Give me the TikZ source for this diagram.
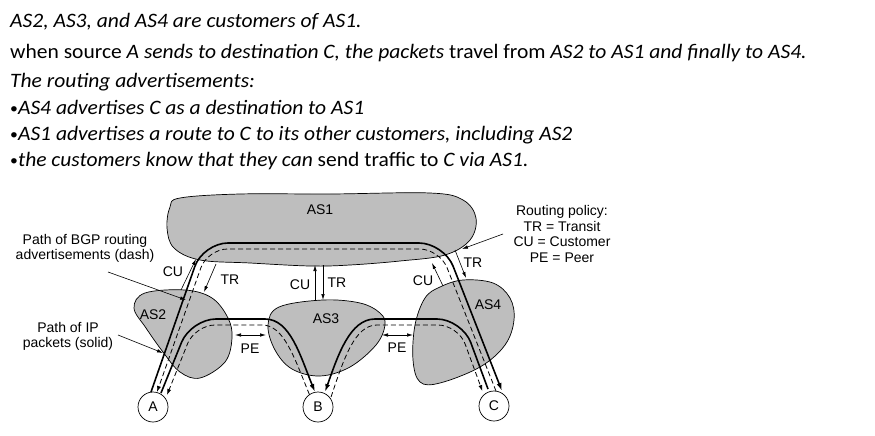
\documentclass[tikz,border=0pt]{standalone}
\usepackage{fontspec}
\setmainfont[FakeStretch=1.05]{Carlito}
\newfontfamily\arialf{Liberation Sans}
\usetikzlibrary{arrows.meta,calc}
\definecolor{blobgray}{RGB}{190,190,190}
\newcommand{\smallbul}{{\fontsize{15}{15}\selectfont\raisebox{0.5pt}{•}}}
\begin{document}
\begin{tikzpicture}[x=1pt,y=-1pt,
  blob/.style={draw=black,line width=0.7pt,fill=blobgray},
  pkt/.style={line width=1.6pt},
  adv/.style={line width=0.8pt,dash pattern=on 5pt off 3pt},
  pktend/.style={-{Latex[length=8pt,width=5pt]}},
  advend/.style={-{Latex[length=6pt,width=4pt]}},
  thinarrow/.style={line width=0.6pt,-{Latex[length=6pt,width=3.5pt]}},
  dblarrow/.style={line width=0.6pt,{Latex[length=6pt,width=3.5pt]}-{Latex[length=6pt,width=3.5pt]}},
  lbl/.style={font=\arialf\fontsize{14}{15.7}\selectfont, inner sep=0pt, align=center},
  host/.style={circle,draw,line width=0.7pt,fill=white,minimum size=30pt,inner sep=0pt,font=\arialf\fontsize{14}{15.7}\selectfont},
  toptext/.style={anchor=base west,inner sep=0pt,font=\fontsize{20.5}{23}\selectfont}
]
\useasboundingbox (0,0) rectangle (875,436);

% ---- top text ----
\node[toptext] (t1) at (10,28) {\textit{AS2, AS3, and AS4 are customers of AS1.}};
\node[toptext] (t2) at (10,59) {when source \textit{A sends to destination C, the packets} travel from \textit{AS2 to AS1 and finally to AS4.}};
\node[toptext] (t3) at (10,88) {\textit{The routing advertisements:}};
\node[toptext] (t4) at (10,114) {\smallbul\textit{AS4 advertises C as a destination to AS1}};
\node[toptext] (t5) at (10,140) {\smallbul\textit{AS1 advertises a route to C to its other customers, including AS2}};
\node[toptext] (t6) at (10,166) {\smallbul\textit{the customers know that they can} send traffic to \textit{C via AS1.}};

% ---- AS blobs ----
\draw[blob] plot[smooth cycle, tension=0.6] coordinates {(180,198) (240,194) (330,194) (430,193) (463,200) (476,218) (470,240) (445,255) (400,261) (350,265) (310,266) (250,263) (200,260) (174,248) (167,228) (170,207)};
\draw[blob] plot[smooth cycle, tension=0.6] coordinates {(145,293) (185,290) (212,298) (228,318) (232,338) (225,362) (200,378) (180,372) (163,352) (146,328) (134,308)};
\draw[blob] plot[smooth cycle, tension=0.6] coordinates {(323,300) (360,303) (380,313) (385,325) (376,345) (350,367) (320,376) (292,369) (275,350) (268,325) (279,307)};
\draw[blob] plot[smooth cycle, tension=0.6] coordinates {(463,280) (493,283) (510,298) (514,320) (505,345) (480,367) (440,383) (420,382) (413,360) (415,325) (425,298) (440,287)};

% ---- AS labels ----
\node[lbl] (as1) at (320,210) {AS1};
\node[lbl] (as2) at (153,315) {AS2};
\node[lbl] (as3) at (326,319) {AS3};
\node[lbl] (as4) at (488,305) {AS4};

% ---- hosts ----
\node[host] (A) at (153,407) {A};
\node[host] (B) at (318,407) {B};
\node[host] (C) at (494,406) {C};

% ---- path end points ----
\coordinate (acS) at (151,392);
\coordinate (acE) at (502,391);
\coordinate (acdS) at (496,391);
\coordinate (acdE) at (157,392);
\coordinate (abS) at (161,393);
\coordinate (abE) at (315,392);
\coordinate (abdS) at (309.4,394.5);
\coordinate (abdE) at (167,395);
\coordinate (cbS) at (488,389);
\coordinate (cbE) at (325,392);
\coordinate (cbdS) at (331,397);
\coordinate (cbdE) at (482.4,391.1);

% A -> C packets (solid) and C -> A advertisement (dashed)
\draw[pkt,pktend,rounded corners=25pt] (acS) -- (203,243) -- (444,243) -- (acE);
\draw[adv,advend,rounded corners=20pt] (acdS) -- (439.6,249) -- (207.5,249) -- (acdE);

% A -> B packets via AS2/AS3 (solid) and B -> A advertisement (dashed)
\draw[pkt,pktend] (abS) -- (181.6,342.2) .. controls (186.8,329.4) and (202.3,319) .. (216,319) -- (265,319) .. controls (290,319) and (300,355) .. (abE);
\draw[adv,advend] (abdS) .. controls (294,357) and (284,325) .. (262,325) -- (215,325) .. controls (204,325) and (191.7,333.4) .. (187.6,343.6) -- (abdE);

% C -> B packets via AS4/AS3 (solid) and B -> C advertisement (dashed)
\draw[pkt,pktend] (cbS) -- (470.7,342.4) .. controls (466,329.8) and (450.8,319) .. (437,319) -- (375,319) .. controls (350,319) and (338,355) .. (cbE);
\draw[adv,advend] (cbdS) .. controls (344,358) and (355,325) .. (377,325) -- (438,325) .. controls (449,325) and (461.2,333.4) .. (465,343.7) -- (cbdE);

% ---- policy arrows ----
\coordinate (cu1a) at (181,290); \coordinate (cu1b) at (196,259);
\coordinate (tr1a) at (216,264); \coordinate (tr1b) at (204,292);
\coordinate (cu2a) at (315,300); \coordinate (cu2b) at (315,265);
\coordinate (tr2a) at (323,265); \coordinate (tr2b) at (323,300);
\coordinate (cu3a) at (443,286); \coordinate (cu3b) at (432,263);
\coordinate (tr3a) at (455,250); \coordinate (tr3b) at (466,278);
\draw[thinarrow] (cu1a) -- (cu1b);
\draw[thinarrow] (tr1a) -- (tr1b);
\draw[thinarrow] (cu2a) -- (cu2b);
\draw[thinarrow] (tr2a) -- (tr2b);
\draw[thinarrow] (cu3a) -- (cu3b);
\draw[thinarrow] (tr3a) -- (tr3b);
\node[lbl] (lcu1) at (173,272) {CU};
\node[lbl] (ltr1) at (230,280) {TR};
\node[lbl] (lcu2) at (300,285) {CU};
\node[lbl] (ltr2) at (337,283) {TR};
\node[lbl] (lcu3) at (423,281) {CU};
\node[lbl] (ltr3) at (473,263) {TR};

% ---- peer arrows ----
\coordinate (pe1a) at (235,335); \coordinate (pe1b) at (266,335);
\coordinate (pe2a) at (382,335); \coordinate (pe2b) at (413,335);
\draw[dblarrow] (pe1a) -- (pe1b);
\draw[dblarrow] (pe2a) -- (pe2b);
\node[lbl] (lpe1) at (250,349) {PE};
\node[lbl] (lpe2) at (397,348) {PE};

% ---- legends ----
\node[lbl] (bgp) at (85,248.5) {Path of BGP routing\\advertisements (dash)};
\node[lbl] (ip) at (68,336.5) {Path of IP\\packets (solid)};
\node[lbl] (pol) at (562,234) {Routing policy:\\TR = Transit\\CU = Customer\\PE = Peer};
\coordinate (bgpFrom) at (108,272); \coordinate (bgpTo) at (186,300);
\coordinate (ipFrom) at (118,335); \coordinate (ipTo) at (163,353);
\coordinate (polFrom) at (503,234); \coordinate (polTo) at (462,249);
\draw[thinarrow] (bgpFrom) -- (bgpTo);
\draw[thinarrow] (ipFrom) -- (ipTo);
\draw[thinarrow] (polFrom) -- (polTo);
\end{tikzpicture}
\end{document}
